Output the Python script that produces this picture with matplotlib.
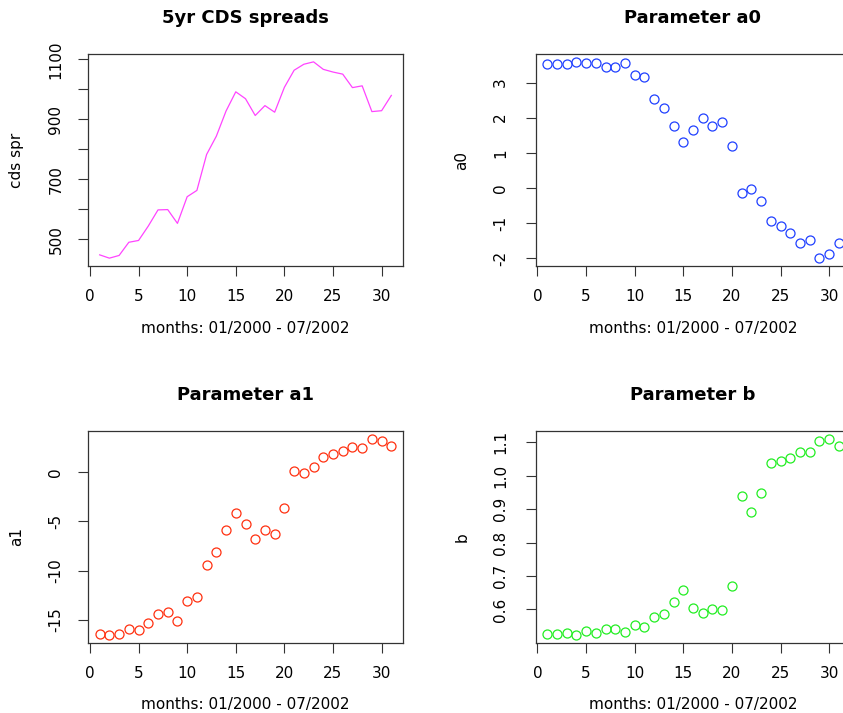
import numpy as np
import matplotlib
matplotlib.use("Agg")
import matplotlib.pyplot as plt

# months 1..31 (01/2000 - 07/2002)
months = list(range(1, 32))

cds_spr = [448, 437, 446, 490, 496, 544, 598, 599, 553, 642, 663, 783, 844, 928,
           992, 969, 913, 946, 924, 1007, 1064, 1084, 1092, 1067, 1058, 1051,
           1006, 1012, 926, 929, 980]

a0 = [3.52, 3.52, 3.53, 3.59, 3.56, 3.57, 3.44, 3.43, 3.57, 3.22, 3.17, 2.53,
      2.28, 1.75, 1.30, 1.64, 1.99, 1.77, 1.88, 1.18, -0.14, -0.03, -0.37,
      -0.93, -1.08, -1.27, -1.58, -1.49, -2.00, -1.89, -1.57]

a1 = [-16.39, -16.55, -16.39, -15.95, -16.01, -15.30, -14.36, -14.22, -15.07,
      -13.07, -12.67, -9.43, -8.07, -5.84, -4.12, -5.30, -6.79, -5.88, -6.28,
      -3.61, 0.10, -0.10, 0.54, 1.52, 1.82, 2.13, 2.60, 2.50, 3.38, 3.21, 2.70]

b = [0.526, 0.525, 0.528, 0.523, 0.534, 0.528, 0.540, 0.541, 0.533, 0.552,
     0.547, 0.577, 0.586, 0.621, 0.657, 0.604, 0.589, 0.602, 0.599, 0.670,
     0.938, 0.890, 0.948, 1.037, 1.044, 1.053, 1.071, 1.071, 1.105, 1.110, 1.089]

xlab = "months: 01/2000 - 07/2002"

plt.rcParams['font.family'] = ['DejaVu Sans']
plt.rcParams['font.size'] = 11

W, H = 843, 713
fig = plt.figure(figsize=(W / 100, H / 100), dpi=100)

# axes boxes in pixels: left, top, width, height
aw, ah = 315, 212
boxes = [(88, 54), (535.5, 54), (88, 431), (535.5, 431)]
axes = []
for (l, t) in boxes:
    ax = fig.add_axes([l / W, 1 - (t + ah) / H, aw / W, ah / H])
    axes.append(ax)

ax1, ax2, ax3, ax4 = axes

ax1.plot(months, cds_spr, color='#ff44ff', lw=0.9)
ax2.plot(months, a0, 'o', mfc='none', mec='#2040ff', ms=6.5, mew=0.9)
ax3.plot(months, a1, 'o', mfc='none', mec='#ff3010', ms=6.5, mew=0.9)
ax4.plot(months, b, 'o', mfc='none', mec='#22ee22', ms=6.5, mew=0.9)

titles = ["5yr CDS spreads", "Parameter a0", "Parameter a1", "Parameter b"]
ylabs = ["cds spr", "a0", "a1", "b"]
ylab_x = [17, 462, 17, 462]

yticks = [[500, 600, 700, 800, 900, 1000, 1100],
          [-2, -1, 0, 1, 2, 3],
          [-15, -10, -5, 0],
          [0.6, 0.7, 0.8, 0.9, 1.0, 1.1]]
ylabels = [["500", "", "700", "", "900", "", "1100"],
           ["-2", "-1", "0", "1", "2", "3"],
           ["-15", "-10", "-5", "0"],
           ["0.6", "0.7", "0.8", "0.9", "1.0", "1.1"]]

for i, ax in enumerate(axes):
    ax.margins(0.04)
    ax.set_xticks([0, 5, 10, 15, 20, 25, 30])
    ax.set_yticks(yticks[i])
    ax.set_yticklabels(ylabels[i], rotation=90, va='center')
    ax.tick_params(direction='out', length=7.2, width=0.8, color='#333333')
    ax.tick_params(axis='x', pad=9)
    ax.tick_params(axis='y', pad=10.5 if i in (0, 2) else 12.5)
    for s in ax.spines.values():
        s.set_linewidth(0.9)
        s.set_color('#333333')
    ax.set_title(titles[i], fontweight='bold', fontsize=13, y=1 + 36 / ah,
                 va='center', pad=0)
    ax.set_xlabel(xlab)
    ax.xaxis.set_label_coords(0.5, -62 / ah)
    ax.xaxis.label.set_va('center')
    ax.set_ylabel(ylabs[i])
    bl = boxes[i][0]
    ax.yaxis.set_label_coords((ylab_x[i] - bl) / aw, 0.5)
    ax.yaxis.label.set_va('center')

fig.savefig("out.png", dpi=100)
